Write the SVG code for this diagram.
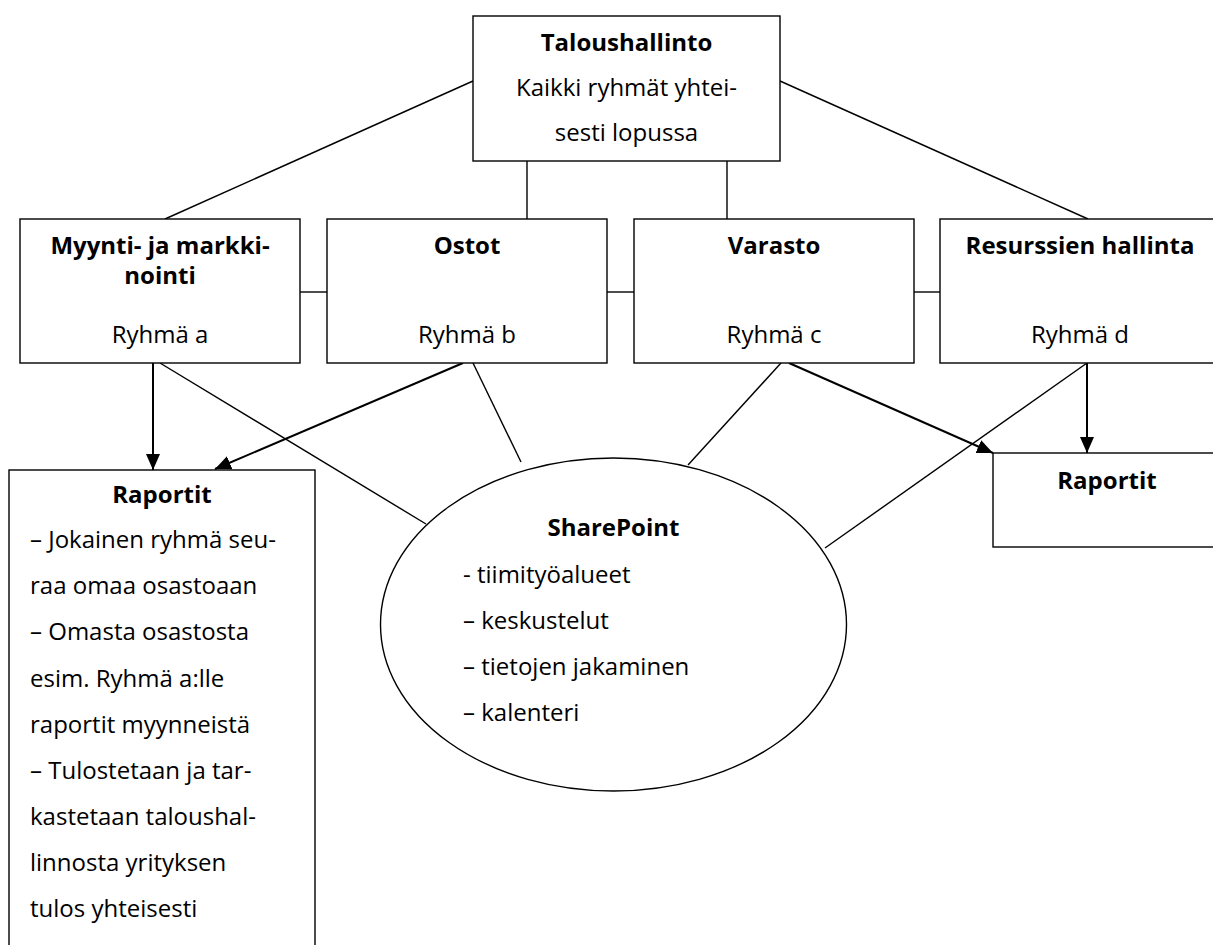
<svg xmlns="http://www.w3.org/2000/svg" width="1213" height="945" viewBox="0 0 1213 945">
<style>
.box{fill:#fff;stroke:#000;stroke-width:1.4}
.ln{stroke:#000;stroke-width:1.4;fill:none}
.ar{stroke:#000;stroke-width:2;fill:none}
text{font-family:"Open Sans","Noto Sans","DejaVu Sans",sans-serif;font-size:24px;fill:#000}
.b{font-weight:bold}
.c{text-anchor:middle}
</style>
<defs>
<marker id="ah" markerUnits="userSpaceOnUse" markerWidth="16" markerHeight="16" viewBox="0 0 16 14" refX="16" refY="7" orient="auto">
<path d="M0,0 L16,7 L0,14 z" fill="#000"/>
</marker>
</defs>
<rect width="1213" height="945" fill="#fff"/>
<g id="connectors">
<line class="ln" x1="473" y1="81" x2="165" y2="219"/>
<line class="ln" x1="780" y1="81" x2="1088" y2="219"/>
<line class="ln" x1="527" y1="161" x2="527" y2="219"/>
<line class="ln" x1="727" y1="161" x2="727" y2="219"/>
<line class="ln" x1="300" y1="292" x2="327" y2="292"/>
<line class="ln" x1="607" y1="292" x2="634" y2="292"/>
<line class="ln" x1="914" y1="292" x2="940" y2="292"/>
<line class="ar" x1="153" y1="363" x2="153" y2="470" marker-end="url(#ah)"/>
<line class="ar" x1="463" y1="363" x2="215" y2="469" marker-end="url(#ah)"/>
<line class="ln" x1="160" y1="363" x2="426" y2="524"/>
<line class="ln" x1="473" y1="363" x2="521" y2="462"/>
<line class="ln" x1="781" y1="363" x2="688" y2="465"/>
<line class="ar" x1="789" y1="363" x2="993" y2="453" marker-end="url(#ah)"/>
<line class="ln" x1="1087" y1="363" x2="825" y2="548"/>
<line class="ar" x1="1087" y1="363" x2="1087" y2="453" marker-end="url(#ah)"/>
</g>
<g id="taloushallinto">
<rect class="box" x="473" y="16" width="307" height="145"/>
<text class="b c" x="626.5" y="51">Taloushallinto</text>
<text class="c" x="626.5" y="96">Kaikki ryhmät yhtei-</text>
<text class="c" x="626.5" y="141">sesti lopussa</text>
</g>
<g id="myynti">
<rect class="box" x="20" y="219" width="280" height="144"/>
<text class="b c" x="160" y="254">Myynti- ja markki-</text>
<text class="b c" x="160" y="284">nointi</text>
<text class="c" x="160" y="343">Ryhmä a</text>
</g>
<g id="ostot">
<rect class="box" x="327" y="219" width="280" height="144"/>
<text class="b c" x="467" y="254">Ostot</text>
<text class="c" x="467" y="343">Ryhmä b</text>
</g>
<g id="varasto">
<rect class="box" x="634" y="219" width="280" height="144"/>
<text class="b c" x="774" y="254">Varasto</text>
<text class="c" x="774" y="343">Ryhmä c</text>
</g>
<g id="resurssit">
<rect class="box" x="940" y="219" width="290" height="144"/>
<text class="b c" x="1080" y="254">Resurssien hallinta</text>
<text class="c" x="1080" y="343">Ryhmä d</text>
</g>
<g id="raportit-vasen">
<rect class="box" x="9" y="470" width="306" height="490"/>
<text class="b c" x="162" y="503">Raportit</text>
<text x="30" y="548">– Jokainen ryhmä seu-</text>
<text x="30" y="594">raa omaa osastoaan</text>
<text x="30" y="640">– Omasta osastosta</text>
<text x="30" y="687">esim. Ryhmä a:lle</text>
<text x="30" y="733">raportit myynneistä</text>
<text x="30" y="779">– Tulostetaan ja tar-</text>
<text x="30" y="825">kastetaan taloushal-</text>
<text x="30" y="871">linnosta yrityksen</text>
<text x="30" y="917">tulos yhteisesti</text>
</g>
<g id="sharepoint">
<ellipse class="box" cx="613.5" cy="624.5" rx="233" ry="166.5"/>
<text class="b c" x="613.5" y="536">SharePoint</text>
<text x="463" y="583">- tiimityöalueet</text>
<text x="463" y="629">– keskustelut</text>
<text x="463" y="675">– tietojen jakaminen</text>
<text x="463" y="721">– kalenteri</text>
</g>
<g id="raportit-oikea">
<rect class="box" x="993" y="453" width="230" height="94"/>
<text class="b c" x="1107" y="489">Raportit</text>
</g>
</svg>
